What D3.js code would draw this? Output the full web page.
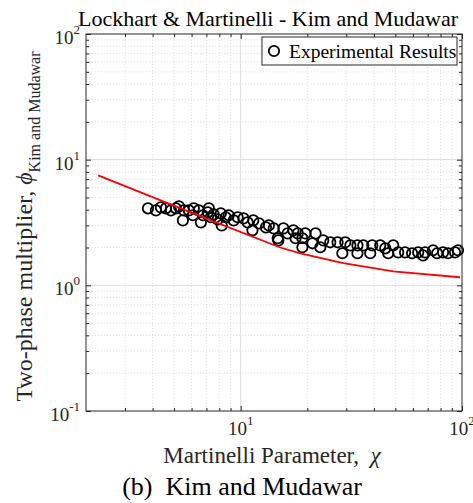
<!DOCTYPE html>
<html><head><meta charset="utf-8">
<script src="https://cdn.jsdelivr.net/npm/d3@7"></script>
<style>
html,body{margin:0;padding:0;background:#fff;}
svg{display:block;}
text{font-family:"Liberation Serif","Times New Roman",serif;}
</style>
</head><body>
<svg id="chart" width="473" height="503"></svg>
<script>
// ---- data ----
const chiData = [3.81,4.14,4.36,4.59,4.84,5.10,5.26,5.54,5.48,5.83,
  6.08,6.14,6.47,6.61,6.75,7.10,7.33,7.55,7.87,8.13,
  8.21,8.83,9.30,9.69,10.3,10.75,11.4,11.3,12.1,13.0,
  13.4,14.1,14.7,15.6,16.3,17.3,17.7,18.1,19.0,19.6,
  19.0,21.1,21.8,22.9,23.6,25.4,27.4,28.8,29.7,31.3,
  33.7,33.7,35.8,38.5,39.3,42.7,45.0,46.4,48.9,51.5,
  55.3,59.5,63.4,66.7,68.1,74.0,77.2,82.1,86.5,93.0,
  95.9,14.8,7.18,8.56];
const phiData = [4.10,3.95,4.17,4.10,3.95,4.10,4.25,3.95,3.29,3.95,
  3.61,4.10,3.95,3.17,3.61,3.81,3.48,3.67,3.35,3.74,
  3.00,3.61,3.29,3.48,3.41,3.17,3.29,2.74,3.11,2.89,
  3.00,2.84,2.37,2.84,2.59,2.74,2.37,2.59,2.37,2.59,
  2.01,2.16,2.59,2.01,2.28,2.20,2.20,1.80,2.20,2.08,
  1.80,2.08,2.08,1.80,2.08,2.08,1.97,1.80,2.08,1.83,
  1.83,1.80,1.83,1.73,1.83,1.90,1.80,1.83,1.80,1.83,
  1.90,2.28,4.10,3.48];
const corrChi = [2.27, 6.6, 15.1, 18.6, 29.1, 48.9, 97.9];
const corrPhi = [7.5, 3.54, 2.0, 1.80, 1.50, 1.29, 1.16];

const xTickValues = [10, 100];
const xTickExponents = ["1", "2"];
const yTickValues = [0.1, 1, 10, 100];
const yTickExponents = ["-1", "0", "1", "2"];
const xDomain = [2, 100];
const yDomain = [0.1, 100];

const titleText = "Lockhart & Martinelli - Kim and Mudawar";
const xLabelText = "Martinelli Parameter,  ";
const yLabelText = "Two-phase multiplier, ";
const ySubText = "Kim and Mudawar";
const legendText = "Experimental Results";
const captionText = "(b)  Kim and Mudawar";

// ---- layout ----
const L = 86, R = 462, T = 34, B = 411;
const axisColor = "#262626";
const svg = d3.select("#chart");

const x = d3.scaleLog().domain(xDomain).range([L, R]);
const y = d3.scaleLog().domain(yDomain).range([B, T]);

function minors(domain) {
  const out = [];
  for (let e = Math.floor(Math.log10(domain[0])); e < Math.ceil(Math.log10(domain[1])); e++) {
    for (let m = 2; m < 10; m++) {
      const v = m * Math.pow(10, e);
      if (v > domain[0] * 1.0001 && v < domain[1] * 0.9999) out.push(v);
    }
  }
  return out;
}
const xMinor = minors(xDomain);
const yMinor = minors(yDomain);

const g = svg.append("g");
// minor grid
g.selectAll(".xmg").data(xMinor).enter().append("line")
  .attr("x1", d => x(d)).attr("x2", d => x(d)).attr("y1", T).attr("y2", B)
  .attr("stroke", "#dadada").attr("stroke-width", 0.8).attr("stroke-dasharray", "1,2");
g.selectAll(".ymg").data(yMinor).enter().append("line")
  .attr("y1", d => y(d)).attr("y2", d => y(d)).attr("x1", L).attr("x2", R)
  .attr("stroke", "#dadada").attr("stroke-width", 0.8).attr("stroke-dasharray", "1,2");
// major grid
g.selectAll(".xMg").data(xTickValues.filter(v => v > xDomain[0] && v < xDomain[1])).enter().append("line")
  .attr("x1", d => x(d)).attr("x2", d => x(d)).attr("y1", T).attr("y2", B)
  .attr("stroke", "#dcdcdc").attr("stroke-width", 1);
g.selectAll(".yMg").data(yTickValues.filter(v => v > yDomain[0] && v < yDomain[1])).enter().append("line")
  .attr("y1", d => y(d)).attr("y2", d => y(d)).attr("x1", L).attr("x2", R)
  .attr("stroke", "#dcdcdc").attr("stroke-width", 1);

// data points
const pts = chiData.map((c, i) => [c, phiData[i]]);
g.selectAll(".pt").data(pts).enter().append("circle")
  .attr("cx", d => x(d[0])).attr("cy", d => y(d[1])).attr("r", 5.2)
  .attr("fill", "none").attr("stroke", "#000").attr("stroke-width", 1.8);

// correlation line
const corr = corrChi.map((c, i) => [c, corrPhi[i]]);
g.append("path").datum(corr)
  .attr("d", d3.line().x(d => x(d[0])).y(d => y(d[1])))
  .attr("fill", "none").attr("stroke", "#ff0000").attr("stroke-width", 1.8);

// axes with inward ticks
const tickLen = 5, minorLen = 3;
function styleAxis(sel) {
  sel.select(".domain").remove();
  sel.selectAll("line").attr("stroke", axisColor);
  sel.selectAll("text").remove();
}
svg.append("g").attr("transform", `translate(0,${B})`)
  .call(d3.axisBottom(x).tickValues(xTickValues).tickSize(-tickLen)).call(styleAxis);
svg.append("g").attr("transform", `translate(0,${B})`)
  .call(d3.axisBottom(x).tickValues(xMinor).tickSize(-minorLen)).call(styleAxis);
svg.append("g").attr("transform", `translate(0,${T})`)
  .call(d3.axisTop(x).tickValues(xTickValues).tickSize(-tickLen)).call(styleAxis);
svg.append("g").attr("transform", `translate(0,${T})`)
  .call(d3.axisTop(x).tickValues(xMinor).tickSize(-minorLen)).call(styleAxis);
svg.append("g").attr("transform", `translate(${L},0)`)
  .call(d3.axisLeft(y).tickValues(yTickValues).tickSize(-tickLen)).call(styleAxis);
svg.append("g").attr("transform", `translate(${L},0)`)
  .call(d3.axisLeft(y).tickValues(yMinor).tickSize(-minorLen)).call(styleAxis);
svg.append("g").attr("transform", `translate(${R},0)`)
  .call(d3.axisRight(y).tickValues(yTickValues).tickSize(-tickLen)).call(styleAxis);
svg.append("g").attr("transform", `translate(${R},0)`)
  .call(d3.axisRight(y).tickValues(yMinor).tickSize(-minorLen)).call(styleAxis);

// box
svg.append("rect").attr("x", L).attr("y", T).attr("width", R - L).attr("height", B - T)
  .attr("fill", "none").attr("stroke", axisColor).attr("stroke-width", 1);

// tick labels
xTickValues.forEach((v, i) => {
  const t = svg.append("text").attr("x", x(v)).attr("y", B + 24)
    .attr("text-anchor", "middle").attr("fill", axisColor).style("font-size", "19px");
  t.append("tspan").text("10");
  t.append("tspan").attr("dy", -10).style("font-size", "13px").text(xTickExponents[i]);
});
yTickValues.forEach((v, i) => {
  const t = svg.append("text").attr("x", L - 6).attr("y", y(v) + 10)
    .attr("text-anchor", "end").attr("fill", axisColor).style("font-size", "19px");
  t.append("tspan").text("10");
  t.append("tspan").attr("dy", -10).style("font-size", "13px").text(yTickExponents[i]);
});

// title
svg.append("text").attr("x", 268).attr("y", 26).attr("text-anchor", "middle")
  .attr("fill", "#000").style("font-size", "22px").text(titleText);

// x label
const xl = svg.append("text").attr("x", 272).attr("y", 463).attr("text-anchor", "middle")
  .attr("fill", axisColor).style("font-size", "23px").style("white-space", "pre");
xl.append("tspan").text(xLabelText);
xl.append("tspan").style("font-style", "italic").text("χ");

// y label
const yl = svg.append("text").attr("transform", `translate(32,${(T + B) / 2 + 4}) rotate(-90)`)
  .attr("text-anchor", "middle").attr("fill", axisColor).style("font-size", "24px")
  .style("white-space", "pre");
yl.append("tspan").text(yLabelText);
yl.append("tspan").style("font-style", "italic").text("ϕ");
yl.append("tspan").attr("dy", 8).style("font-size", "16px").text(ySubText);

// legend
const lg = svg.append("g");
lg.append("rect").attr("x", 262).attr("y", 37).attr("width", 195).attr("height", 28)
  .attr("fill", "#fff").attr("stroke", axisColor).attr("stroke-width", 1);
lg.append("circle").attr("cx", 274).attr("cy", 51).attr("r", 5.2)
  .attr("fill", "none").attr("stroke", "#000").attr("stroke-width", 1.8);
lg.append("text").attr("x", 289).attr("y", 58).attr("fill", "#000")
  .style("font-size", "19.5px").text(legendText);

// caption
svg.append("text").attr("x", 242).attr("y", 495).attr("text-anchor", "middle")
  .attr("fill", "#000").style("font-size", "26px").style("white-space", "pre").text(captionText);
</script>
</body></html>
